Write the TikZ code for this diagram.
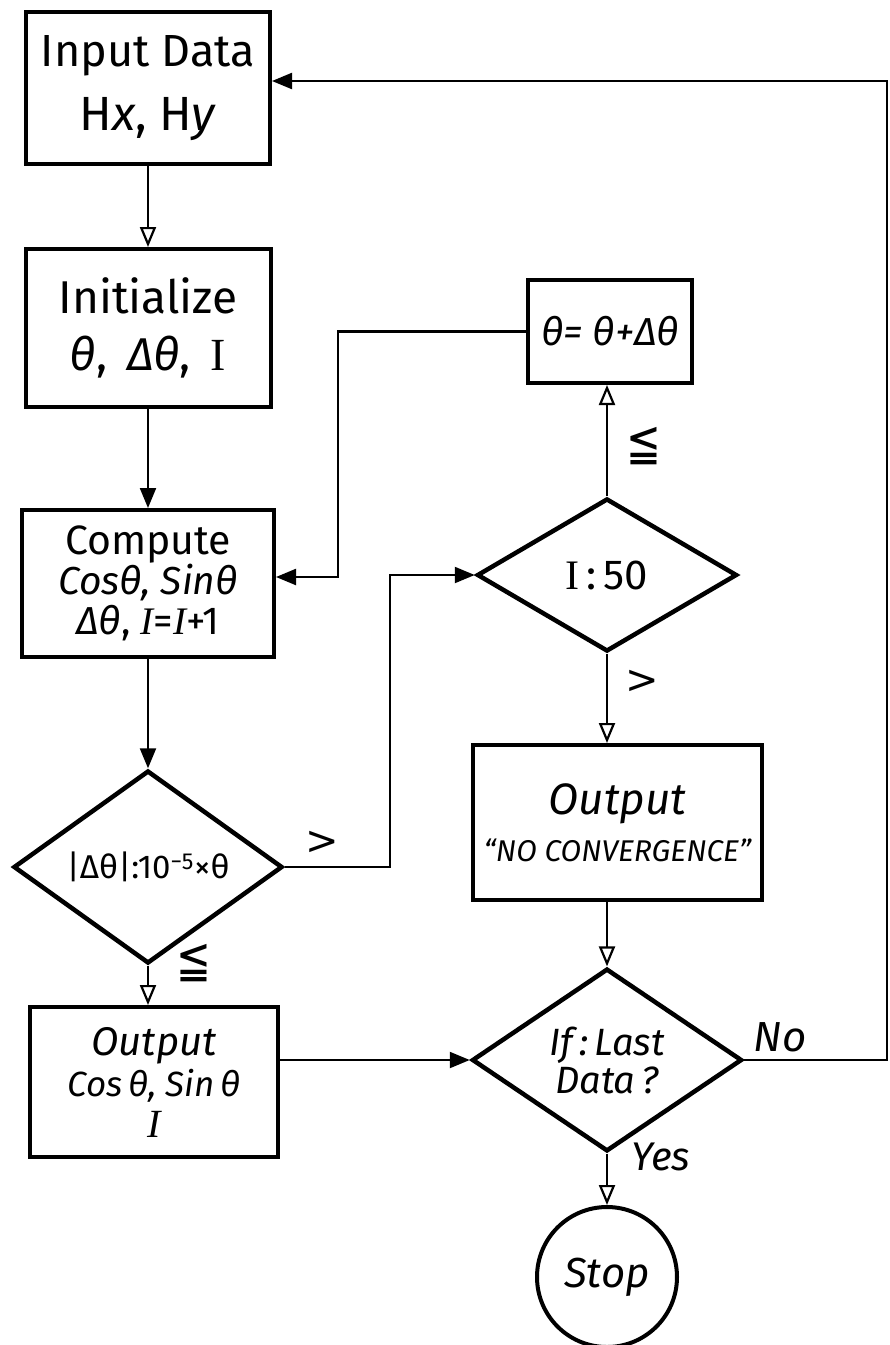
\documentclass[tikz,border=0pt]{standalone}
\usepackage{fontspec}
\setmainfont{Fira Sans}
\newfontfamily\symf{DejaVu Sans}
\newfontfamily\serf{Liberation Serif}
\usetikzlibrary{arrows.meta,shapes.geometric}
\newcommand{\romI}{{\serf I}}
\newcommand{\itI}{{\serf\itshape I}}
\newcommand{\myleqq}{{\symf ≦}}
\newcommand{\fsz}[1]{\fontsize{#1}{#1}\selectfont}
\begin{document}
\begin{tikzpicture}[x=1pt,y=-1pt,
  box/.style={draw,line width=4pt,rectangle,inner sep=0pt,align=center},
  dia/.style={draw,line width=4.5pt,diamond,inner sep=0pt,align=center},
  con/.style={line width=2.2pt},
  fa/.style={-{Triangle[length=20pt,width=16pt]}},
  oa/.style={-{Triangle[open,length=20pt,width=16pt,fill=white]}},
  lbl/.style={inner sep=0pt,font=\symf\fontsize{40}{40}\selectfont},
  rel/.style={inner sep=0pt,xscale=0.8,font=\symf\fontsize{52}{52}\selectfont}
]
\useasboundingbox (0,0) rectangle (890,1345);

% left column
\node[box,minimum width=244pt,minimum height=152pt,font=\fontsize{45}{64}\selectfont] (inp) at (148,88) {Input Data\\{\fsz{48}H\textit{x}, H\textit{y}}};
\node[box,minimum width=245pt,minimum height=158pt,font=\fontsize{46}{57}\selectfont] (init) at (148,328) {Initialize\\\textit{θ},\, \textit{Δθ},\, \romI};
\node[box,minimum width=252pt,minimum height=147pt,font=\fontsize{41}{40}\selectfont] (comp) at (148,583.5) {Compute\\{\fsz{39}\textit{Cosθ, Sinθ}}\\{\fsz{39}\textit{Δθ}, \itI=\itI+1}};
\node[dia,minimum width=269pt,minimum height=152pt,font=\fontsize{33}{33}\selectfont] (dec1) at (148,867) {|Δθ|:10\textsuperscript{−5}×θ};
\node[box,minimum width=248pt,minimum height=150pt,font=\itshape\fontsize{40}{41}\selectfont] (out) at (154,1082) {Output\\{\fsz{35}Cos\,θ, Sin\,θ}\\\itI};

% right column
\node[box,minimum width=164pt,minimum height=103pt,font=\itshape\fontsize{39}{39}\selectfont] (upd) at (610,331.5) {θ= θ+Δθ};
\node[dia,minimum width=260pt,minimum height=153pt,font=\fontsize{42}{42}\selectfont] (dec2) at (607,575) {\romI\,:\,50};
\node[box,minimum width=289pt,minimum height=155pt,font=\itshape\fontsize{44}{47}\selectfont] (nc) at (617.5,822.5) {Output\\{\fsz{30}“NO CONVERGENCE”}};
\node[dia,minimum width=270pt,minimum height=155pt,font=\itshape\fontsize{38}{38}\selectfont] (dec3) at (607,1060) {If\,:\,Last\\Data\,?};
\node[draw,circle,line width=4pt,minimum size=140pt,inner sep=0pt,font=\itshape\fontsize{42}{42}\selectfont] (stop) at (607,1277) {Stop};

\coordinate (rc) at (887,1060);

% connectors
\draw[con,oa] (inp) -- (init);
\draw[con,fa] (init) -- (comp);
\draw[con,fa] (comp) -- (dec1);
\draw[con,oa] (dec1.south) -- (dec1.south |- out.north);
\draw[con,fa] (dec1.east) -- ++(105,0) |- (dec2.west);
\draw[con,oa] (dec2.north) -- (dec2.north |- upd.south);
\draw[con,fa] (upd.west) -- ++(-188,0) |- ([yshift=6.5pt]comp.east);
\draw[con,oa] (dec2.south) -- (dec2.south |- nc.north);
\draw[con,oa] (dec3.north |- nc.south) -- (dec3.north);
\draw[con,fa] (out.east |- dec3.west) -- (dec3.west);
\draw[con,fa] (dec3.east) -- (rc) |- ([yshift=7pt]inp.east);
\draw[con,oa] (dec3.south) -- (stop.north);

% labels
\node[lbl] (l1) at (322,843) {>};
\node[rel] (l2) at (194,963) {\myleqq};
\node[rel] (l3) at (644,446) {\myleqq};
\node[lbl] (l4) at (642,682) {>};
\node[inner sep=0pt,font=\itshape\fontsize{42}{42}\selectfont] (l5) at (780,1037) {No};
\node[inner sep=0pt,font=\itshape\fontsize{40}{40}\selectfont] (l6) at (661,1157) {Yes};
\end{tikzpicture}
\end{document}
